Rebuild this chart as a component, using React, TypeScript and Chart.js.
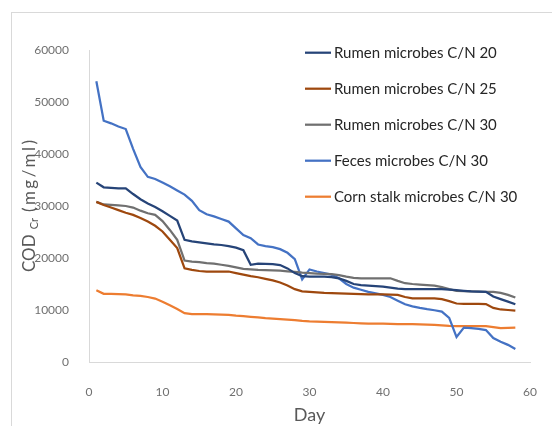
import { useEffect, useRef } from 'react';
import { Chart, registerables } from 'chart.js';

Chart.register(...registerables);

const days = [1, 2, 3, 4, 5, 6, 7, 8, 9, 10, 11, 12, 13, 14, 15, 16, 17, 18, 19, 20,
  21, 22, 23, 24, 25, 26, 27, 28, 29, 30, 31, 32, 33, 34, 35, 36, 37, 38, 39, 40,
  41, 42, 43, 44, 45, 46, 47, 48, 49, 50, 51, 52, 53, 54, 55, 56, 57, 58];

const rumen20 = [34500, 33600, 33500, 33400, 33400, 32300, 31300, 30500, 29800, 29000,
  28100, 27200, 23500, 23200, 23000, 22800, 22600, 22500, 22300, 22000,
  21500, 18700, 18900, 18850, 18800, 18650, 18000, 17100, 16500, 16400,
  16400, 16400, 16300, 16100, 15600, 15000, 14800, 14700, 14600, 14500,
  14300, 14100, 14000, 14000, 14000, 14000, 14000, 14000, 13900, 13800,
  13700, 13600, 13550, 13500, 12600, 12100, 11600, 11100];

const rumen25 = [30800, 30200, 29700, 29200, 28700, 28300, 27700, 27000, 26200, 25100,
  23500, 21900, 18000, 17700, 17500, 17400, 17400, 17400, 17400, 17100,
  16800, 16500, 16300, 16000, 15700, 15300, 14700, 14000, 13600, 13500,
  13400, 13300, 13250, 13200, 13150, 13100, 13050, 13000, 13000, 13000,
  12950, 12900, 12500, 12250, 12250, 12250, 12250, 12100, 11700, 11250,
  11200, 11200, 11200, 11150, 10400, 10100, 10000, 9900];

const rumen30 = [30800, 30300, 30200, 30100, 30000, 29700, 29100, 28600, 28300, 27100,
  25400, 23500, 19500, 19300, 19200, 19000, 18900, 18700, 18500, 18200,
  17900, 17800, 17700, 17650, 17600, 17550, 17450, 17350, 17200, 17100,
  17000, 16950, 16900, 16700, 16400, 16200, 16100, 16100, 16100, 16100,
  16100, 15600, 15150, 15000, 14900, 14800, 14700, 14400, 14000, 13700,
  13650, 13600, 13550, 13500, 13500, 13300, 12900, 12400];

const feces30 = [54000, 46400, 45900, 45300, 44800, 41000, 37500, 35600, 35200, 34500,
  33800, 33000, 32200, 31000, 29200, 28400, 28000, 27500, 27000, 25700,
  24400, 23800, 22600, 22300, 22100, 21700, 21000, 19800, 15900, 17800,
  17400, 17100, 16800, 16100, 15000, 14300, 13900, 13500, 13200, 12900,
  12500, 11800, 11100, 10700, 10400, 10150, 9950, 9700, 8500, 4800,
  6600, 6500, 6350, 6150, 4600, 3900, 3300, 2500];

const cornStalk30 = [13800, 13100, 13100, 13050, 13000, 12800, 12700, 12500, 12200, 11600,
  10900, 10200, 9400, 9200, 9200, 9200, 9150, 9100, 9050, 8900,
  8800, 8700, 8600, 8450, 8350, 8250, 8150, 8050, 7900, 7800,
  7750, 7700, 7650, 7600, 7550, 7500, 7450, 7400, 7400, 7400,
  7350, 7300, 7300, 7300, 7250, 7200, 7150, 7050, 6950, 6900,
  6900, 6900, 6900, 6900, 6700, 6500, 6550, 6600];

const seriesLabels = ['Rumen microbes C/N 20', 'Rumen microbes C/N 25', 'Rumen microbes C/N 30', 'Feces microbes C/N 30', 'Corn stalk microbes C/N 30'];
const seriesValues = [rumen20, rumen25, rumen30, feces30, cornStalk30];
const seriesColors = ['#264478', '#9E480E', '#707070', '#4472C4', '#ED7D31'];

const xTitle = 'Day';
const yTitleMain = 'COD';
const yTitleSub = 'Cr';
const yTitleUnit = '(mg/ml)';

const FONT = 'Lato, "Open Sans", sans-serif';

const framePlugin = {
  id: 'frame',
  beforeDraw(chart: any) {
    const ctx = chart.ctx;
    ctx.save();
    ctx.fillStyle = '#ffffff';
    ctx.fillRect(0, 0, chart.width, chart.height);
    ctx.strokeStyle = '#d9d9d9';
    ctx.lineWidth = 1;
    ctx.strokeRect(11.5, 12.5, 700, 600);
    ctx.restore();
  },
};

const yTitlePlugin = {
  id: 'yTitleSub',
  afterDraw(chart: any) {
    const ctx = chart.ctx;
    ctx.save();
    ctx.translate(35, 272);
    ctx.rotate(-Math.PI / 2);
    ctx.fillStyle = '#595959';
    ctx.textBaseline = 'alphabetic';
    ctx.textAlign = 'left';
    ctx.font = `17px ${FONT}`;
    ctx.fillText(yTitleMain, 0, 0);
    const w1 = ctx.measureText(yTitleMain).width;
    ctx.font = `11px ${FONT}`;
    ctx.fillText(yTitleSub, w1 + 5, 3);
    const w2 = ctx.measureText(yTitleSub).width;
    ctx.font = `17px ${FONT}`;
    (ctx as any).letterSpacing = '2.5px';
    ctx.fillText(yTitleUnit, w1 + 5 + w2 + 6, 0);
    ctx.restore();
  },
};

const legendPlugin = {
  id: 'customLegend',
  afterDraw(chart: any) {
    const ctx = chart.ctx;
    ctx.save();
    chart.data.datasets.forEach((ds: any, i: number) => {
      const y = 52.7 + i * 36;
      ctx.strokeStyle = ds.borderColor;
      ctx.lineWidth = 2.25;
      ctx.beginPath();
      ctx.moveTo(305, y);
      ctx.lineTo(331, y);
      ctx.stroke();
      ctx.fillStyle = '#262626';
      ctx.font = `15px ${FONT}`;
      ctx.textBaseline = 'middle';
      ctx.textAlign = 'left';
      ctx.fillText(ds.label, 334, y);
    });
    ctx.restore();
  },
};

export default function App() {
  const ref = useRef<HTMLCanvasElement>(null);
  useEffect(() => {
    if (!ref.current) return;
    const chart = new Chart(ref.current, {
      type: 'line',
      data: {
        datasets: seriesLabels.map((label, i) => ({
          label,
          data: days.map((d, j) => ({ x: d, y: seriesValues[i][j] })),
          borderColor: seriesColors[i],
          backgroundColor: seriesColors[i],
          borderWidth: 2.25,
          pointRadius: 0,
          tension: 0,
          fill: false,
        })),
      },
      options: {
        responsive: false,
        animation: false,
        layout: { padding: { left: 0, top: 50, right: 21, bottom: 0 } },
        plugins: {
          legend: { display: false },
          tooltip: { enabled: false },
        },
        scales: {
          x: {
            type: 'linear',
            min: 0,
            max: 60,
            grid: { display: false },
            border: { display: true, color: '#d9d9d9', width: 1 },
            ticks: {
              stepSize: 10,
              padding: 15,
              color: '#707070',
              font: { family: FONT, size: 12 },
              maxRotation: 0,
              callback: (v: any) => String(v),
            },
            title: {
              display: true,
              text: xTitle,
              color: '#595959',
              font: { family: FONT, size: 18 },
              padding: { top: 6, bottom: 0 },
            },
            afterFit: (s: any) => { s.height = 64; },
          },
          y: {
            type: 'linear',
            min: 0,
            max: 60000,
            grid: { display: false },
            border: { display: true, color: '#d9d9d9', width: 1 },
            ticks: {
              stepSize: 10000,
              padding: 12,
              color: '#707070',
              font: { family: FONT, size: 12 },
              callback: (v: any) => String(v),
            },
            afterFit: (s: any) => { s.width = 89; },
          },
        },
      },
      plugins: [framePlugin, yTitlePlugin, legendPlugin],
    });
    return () => chart.destroy();
  }, []);
  return (
    <div style={{ position: 'absolute', left: 0, top: 0, width: 552, height: 426 }}>
      <canvas ref={ref} width={552} height={426} style={{ display: 'block' }} />
    </div>
  );
}
